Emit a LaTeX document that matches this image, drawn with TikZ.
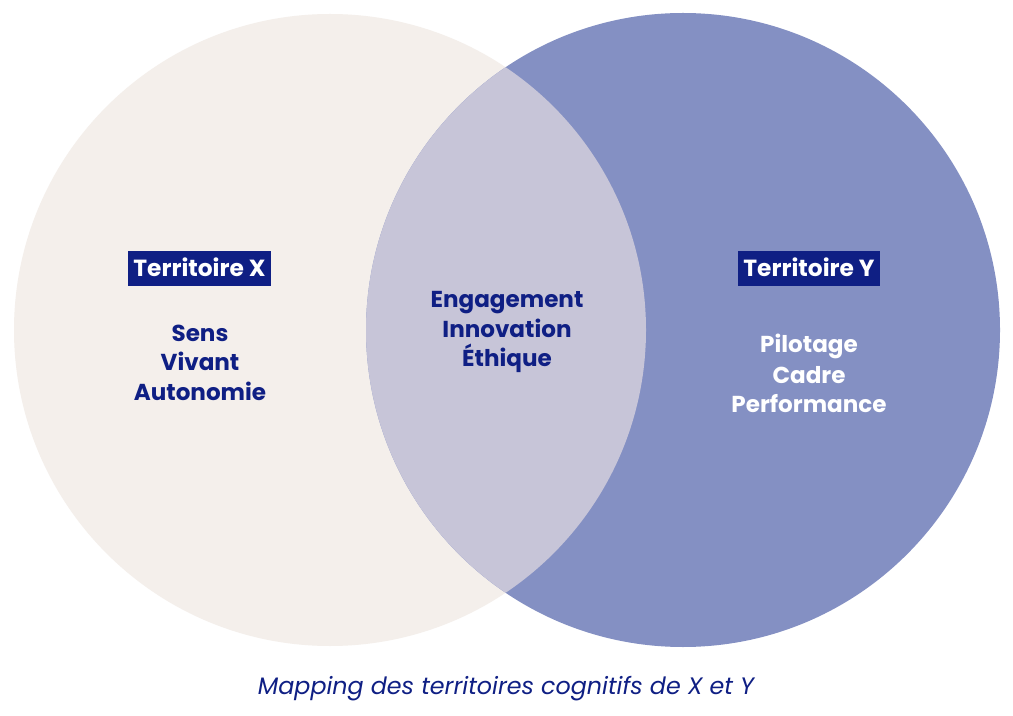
\documentclass[tikz,border=0pt]{standalone}
\usepackage{fontspec}
\setmainfont{Poppins}
\definecolor{leftc}{HTML}{F4EFEB}
\definecolor{rightc}{HTML}{8490C3}
\definecolor{midc}{HTML}{C7C5D8}
\definecolor{navy}{HTML}{0F1F84}
\tikzset{
  tag/.style={fill=navy, text=white, font=\fontsize{17.5}{20}\selectfont\bfseries, inner xsep=0pt, text height=12pt, text depth=0pt, minimum height=26pt, minimum width=107pt},
  word/.style={font=\fontsize{17.3}{20}\selectfont\bfseries, text=navy, inner sep=0pt, anchor=base},
  wword/.style={word, text=white},
}
\begin{document}
\begin{tikzpicture}[x=0.75pt,y=-0.75pt]
\useasboundingbox (0,0) rectangle (1013,716);
\fill[white] (0,0) rectangle (1013,716);
\fill[leftc] (330,330) circle[radius=316];
\fill[rightc] (683,330) circle[radius=317];
\begin{scope}
\clip (330,330) circle[radius=316];
\fill[midc] (683,330) circle[radius=317];
\end{scope}
\node[tag] (tx) at (199.5,268.5) {Territoire X};
\node[tag] (ty) at (809,268.5) {Territoire Y};
\node[word] (a1) at (200,341) {Sens};
\node[word] (a2) at (200,370) {Vivant};
\node[word] (a3) at (200,400) {Autonomie};
\node[word] (b1) at (507,308) {Engagement};
\node[word] (b2) at (507,338) {Innovation};
\node[word] (b3) at (507,367) {Éthique};
\node[wword] (c1) at (809,353) {Pilotage};
\node[wword] (c2) at (809,383) {Cadre};
\node[wword] (c3) at (809,412) {Performance};
\node[text=navy, font=\fontsize{17.85}{21}\selectfont\itshape, inner sep=0pt, anchor=base] (cap) at (506,694) {Mapping des territoires cognitifs de X et Y};
\end{tikzpicture}
\end{document}
